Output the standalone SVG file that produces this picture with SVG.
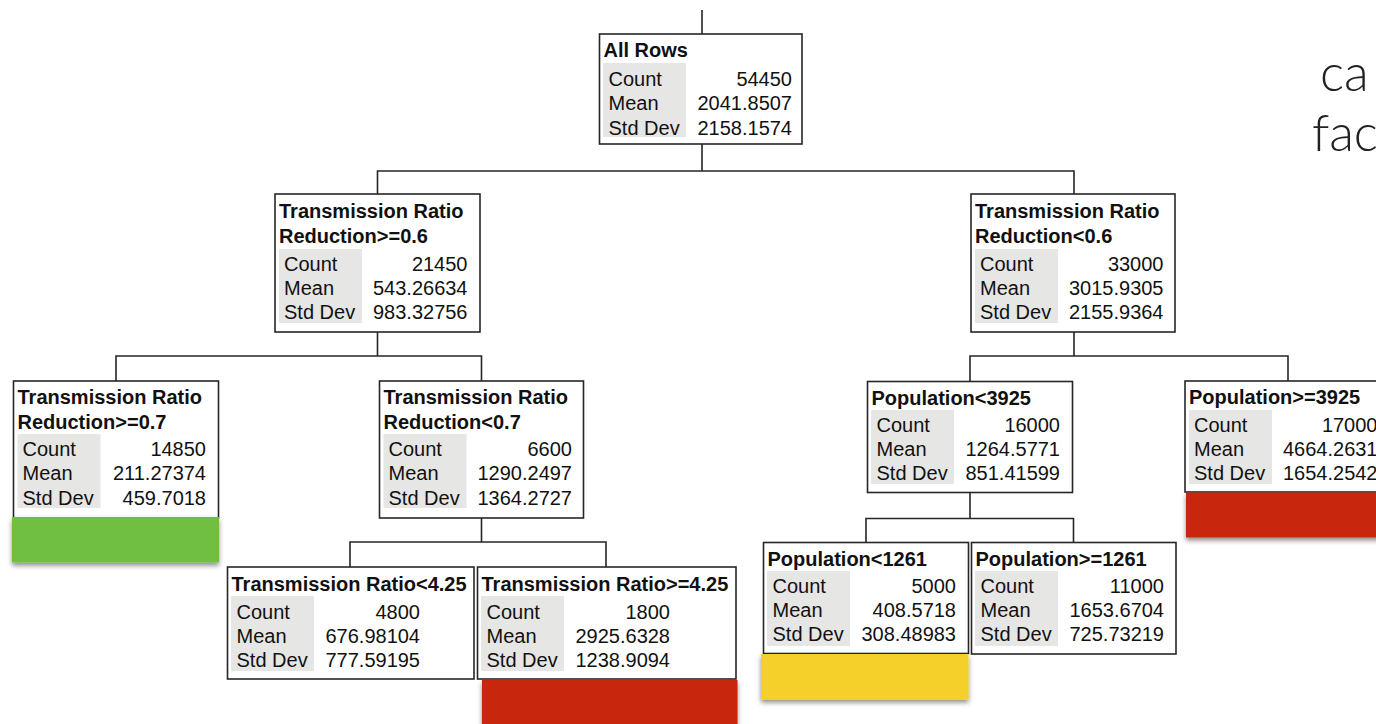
<svg xmlns="http://www.w3.org/2000/svg" width="1376" height="724" viewBox="0 0 1376 724">
<defs>
<style>
.box{fill:#fff;stroke:#262626;stroke-width:1.6}
.grey{fill:#e6e6e4}
.t{font-family:"Liberation Sans",Arial,sans-serif;font-size:20px;fill:#111}
.b{font-weight:bold}
.v{text-anchor:end}
.conn{fill:none;stroke:#262626;stroke-width:1.6}
.big{font-family:"Helvetica Neue",Lato,"Liberation Sans",sans-serif;font-weight:300;font-size:51px;fill:#222}
</style>
<filter id="sh" x="-10%" y="-20%" width="120%" height="160%">
<feDropShadow dx="0" dy="3" stdDeviation="2.5" flood-color="#000" flood-opacity="0.45"/>
</filter>
</defs>
<rect width="1376" height="724" fill="#fff"/>

<g id="connectors" class="conn">
<path d="M702 10V34"/>
<path d="M702 144V171M377.5 194V171H1074V194"/>
<path d="M377.5 332V356M116 381V356H481.5V381"/>
<path d="M1074 332V356M970 381.5V356H1288V381"/>
<path d="M481.5 518V542M350 567V542H606V567"/>
<path d="M970 492.5V518.5M866 542.5V518.5H1073.5V542.5"/>
</g>

<g id="node-all-rows">
<rect class="box" x="599.5" y="34" width="202.5" height="110"/>
<text class="t b" x="603.5" y="57">All Rows</text>
<rect class="grey" x="603" y="63" width="83" height="74"/>
<text class="t" x="608.5" y="85.5">Count</text><text class="t v" x="792" y="85.5">54450</text>
<text class="t" x="608.5" y="110">Mean</text><text class="t v" x="792" y="110">2041.8507</text>
<text class="t" x="608.5" y="134.5">Std Dev</text><text class="t v" x="792" y="134.5">2158.1574</text>
</g>

<g id="node-trr-ge-06">
<rect class="box" x="275" y="194" width="205" height="138"/>
<text class="t b" x="279" y="218">Transmission Ratio</text>
<text class="t b" x="279" y="243">Reduction&gt;=0.6</text>
<rect class="grey" x="279" y="249" width="83" height="74"/>
<text class="t" x="284" y="271">Count</text><text class="t v" x="467.5" y="271">21450</text>
<text class="t" x="284" y="295">Mean</text><text class="t v" x="467.5" y="295">543.26634</text>
<text class="t" x="284" y="319">Std Dev</text><text class="t v" x="467.5" y="319">983.32756</text>
</g>

<g id="node-trr-lt-06">
<rect class="box" x="971" y="194" width="204" height="138"/>
<text class="t b" x="975" y="218">Transmission Ratio</text>
<text class="t b" x="975" y="243">Reduction&lt;0.6</text>
<rect class="grey" x="975" y="249" width="83" height="74"/>
<text class="t" x="980" y="271">Count</text><text class="t v" x="1163.5" y="271">33000</text>
<text class="t" x="980" y="295">Mean</text><text class="t v" x="1163.5" y="295">3015.9305</text>
<text class="t" x="980" y="319">Std Dev</text><text class="t v" x="1163.5" y="319">2155.9364</text>
</g>

<g id="node-trr-ge-07">
<rect class="box" x="13.5" y="381" width="205" height="137"/>
<text class="t b" x="17.5" y="404">Transmission Ratio</text>
<text class="t b" x="17.5" y="429">Reduction&gt;=0.7</text>
<rect class="grey" x="17.5" y="434" width="83" height="74"/>
<text class="t" x="22.5" y="456">Count</text><text class="t v" x="206" y="456">14850</text>
<text class="t" x="22.5" y="480">Mean</text><text class="t v" x="206" y="480">211.27374</text>
<text class="t" x="22.5" y="505">Std Dev</text><text class="t v" x="206" y="505">459.7018</text>
</g>

<g id="node-trr-lt-07">
<rect class="box" x="379.5" y="381" width="204" height="137"/>
<text class="t b" x="383.5" y="404">Transmission Ratio</text>
<text class="t b" x="383.5" y="429">Reduction&lt;0.7</text>
<rect class="grey" x="383.5" y="434" width="83" height="74"/>
<text class="t" x="388.5" y="456">Count</text><text class="t v" x="572" y="456">6600</text>
<text class="t" x="388.5" y="480">Mean</text><text class="t v" x="572" y="480">1290.2497</text>
<text class="t" x="388.5" y="505">Std Dev</text><text class="t v" x="572" y="505">1364.2727</text>
</g>

<g id="node-pop-lt-3925">
<rect class="box" x="867.5" y="381.5" width="205" height="111"/>
<text class="t b" x="871.5" y="404.5">Population&lt;3925</text>
<rect class="grey" x="871" y="410" width="83" height="74"/>
<text class="t" x="876.5" y="432">Count</text><text class="t v" x="1060" y="432">16000</text>
<text class="t" x="876.5" y="456">Mean</text><text class="t v" x="1060" y="456">1264.5771</text>
<text class="t" x="876.5" y="480">Std Dev</text><text class="t v" x="1060" y="480">851.41599</text>
</g>

<g id="node-pop-ge-3925">
<rect class="box" x="1185" y="381" width="205" height="111"/>
<text class="t b" x="1189" y="404">Population&gt;=3925</text>
<rect class="grey" x="1189" y="410" width="83" height="74"/>
<text class="t" x="1194" y="432">Count</text><text class="t v" x="1377.5" y="432">17000</text>
<text class="t" x="1194" y="456">Mean</text><text class="t v" x="1377.5" y="456">4664.2631</text>
<text class="t" x="1194" y="480">Std Dev</text><text class="t v" x="1377.5" y="480">1654.2542</text>
</g>

<g id="node-tr-lt-425">
<rect class="box" x="227.5" y="567" width="246.5" height="112"/>
<text class="t b" x="231.5" y="590.5">Transmission Ratio&lt;4.25</text>
<rect class="grey" x="231" y="596" width="83" height="75"/>
<text class="t" x="236.5" y="618.5">Count</text><text class="t v" x="420" y="618.5">4800</text>
<text class="t" x="236.5" y="642.5">Mean</text><text class="t v" x="420" y="642.5">676.98104</text>
<text class="t" x="236.5" y="666.5">Std Dev</text><text class="t v" x="420" y="666.5">777.59195</text>
</g>

<g id="node-tr-ge-425">
<rect class="box" x="477.5" y="567" width="258.5" height="112"/>
<text class="t b" x="481.5" y="590.5">Transmission Ratio&gt;=4.25</text>
<rect class="grey" x="481" y="596" width="83" height="75"/>
<text class="t" x="486.5" y="618.5">Count</text><text class="t v" x="670" y="618.5">1800</text>
<text class="t" x="486.5" y="642.5">Mean</text><text class="t v" x="670" y="642.5">2925.6328</text>
<text class="t" x="486.5" y="666.5">Std Dev</text><text class="t v" x="670" y="666.5">1238.9094</text>
</g>

<g id="node-pop-lt-1261">
<rect class="box" x="763.5" y="542.5" width="205" height="111"/>
<text class="t b" x="767.5" y="566">Population&lt;1261</text>
<rect class="grey" x="767" y="571" width="83" height="75"/>
<text class="t" x="772.5" y="593">Count</text><text class="t v" x="956" y="593">5000</text>
<text class="t" x="772.5" y="617">Mean</text><text class="t v" x="956" y="617">408.5718</text>
<text class="t" x="772.5" y="641">Std Dev</text><text class="t v" x="956" y="641">308.48983</text>
</g>

<g id="node-pop-ge-1261">
<rect class="box" x="971.5" y="542.5" width="204.5" height="111.5"/>
<text class="t b" x="975.5" y="566">Population&gt;=1261</text>
<rect class="grey" x="975" y="571" width="83" height="75"/>
<text class="t" x="980.5" y="593">Count</text><text class="t v" x="1164" y="593">11000</text>
<text class="t" x="980.5" y="617">Mean</text><text class="t v" x="1164" y="617">1653.6704</text>
<text class="t" x="980.5" y="641">Std Dev</text><text class="t v" x="1164" y="641">725.73219</text>
</g>

<g id="highlights" filter="url(#sh)">
<rect x="12" y="517" width="207" height="45.5" fill="#70bf41"/>
<rect x="482" y="680" width="255.5" height="50" fill="#c8260a"/>
<rect x="1186" y="492.5" width="200" height="45" fill="#c8260a"/>
<rect x="761" y="654" width="207.5" height="45.5" fill="#f5d02a"/>
</g>

<g id="side-text">
<text class="big" x="1320" y="91">ca</text>
<text class="big" x="1312" y="151">fac</text>
</g>
</svg>
